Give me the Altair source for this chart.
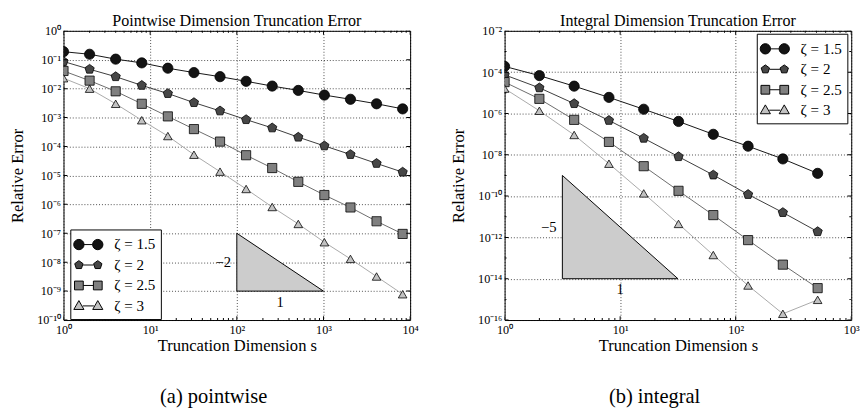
import altair as alt
import pandas as pd

FONT = "Liberation Serif"

zeta_labels = ["ζ = 1.5", "ζ = 2", "ζ = 2.5", "ζ = 3"]

# ---- (a) pointwise truncation error ----
s_pointwise = [1, 2, 4, 8, 16, 32, 64, 128, 256, 512, 1024, 2048, 4096, 8192]
pw_z15 = [0.19, 0.155, 0.105, 0.078, 0.051, 0.036, 0.026, 0.018, 0.0123, 0.0087, 0.006, 0.0043, 0.003, 0.002]
pw_z2 = [0.087, 0.047, 0.026, 0.013, 0.0068, 0.0033, 0.0017, 0.00085, 0.00044, 0.00021, 0.000105, 5.3e-5, 2.6e-5, 1.3e-5]
pw_z25 = [0.041, 0.019, 0.0081, 0.003, 0.0011, 0.0004, 0.000148, 5e-5, 1.8e-5, 6e-6, 2.1e-6, 7.8e-7, 2.6e-7, 9.5e-8]
pw_z3 = [0.023, 0.01, 0.003, 0.00081, 0.00023, 5.2e-5, 1.35e-5, 3.4e-6, 8.1e-7, 2.1e-7, 4.9e-8, 1.3e-8, 3.2e-9, 7.8e-10]

# ---- (b) integral truncation error ----
s_integral = [1, 2, 4, 8, 16, 32, 64, 128, 256, 512]
in_z15 = [1.9e-4, 6.8e-5, 2.1e-5, 6e-6, 1.6e-6, 4.1e-7, 9.8e-8, 2.6e-8, 6.3e-9, 1.26e-9]
in_z2 = [7.4e-5, 1.74e-5, 3e-6, 4.6e-7, 6.3e-8, 8.1e-9, 1.05e-9, 1.2e-10, 1.6e-11, 1.9e-12]
in_z25 = [3.3e-5, 5.1e-6, 4.9e-7, 4.2e-8, 2.8e-9, 1.8e-10, 1.2e-11, 7.4e-13, 4.8e-14, 3.5e-15]
in_z3 = [1.6e-5, 1.35e-6, 9.1e-8, 3.7e-9, 1.35e-10, 4.5e-12, 1.4e-13, 4.7e-15, 2e-16, 9.5e-16]

# slope triangles: (s, top, bottom)
pw_tri_s = [100, 1000]
pw_tri_top = [1e-7, 1e-9]
pw_tri_bot = [1e-9, 1e-9]
pw_slope_text = "−2"
pw_slope_pos = [100, 1e-8]
pw_run_pos = [316, 1e-9]

in_tri_s = [3.1623, 31.623]
in_tri_top = [1e-9, 1e-14]
in_tri_bot = [1e-14, 1e-14]
in_slope_text = "−5"
in_slope_pos = [3.1623, 3.1623e-12]
in_run_pos = [10, 1e-14]

# axis tick values
pw_x_major = [1, 10, 100, 1000, 10000]
pw_y_major = [1, 1e-1, 1e-2, 1e-3, 1e-4, 1e-5, 1e-6, 1e-7, 1e-8, 1e-9, 1e-10]
pw_y_minor = []
in_x_major = [1, 10, 100, 1000]
in_y_major = [1e-2, 1e-4, 1e-6, 1e-8, 1e-10, 1e-12, 1e-14, 1e-16]
in_y_minor = [1e-3, 1e-5, 1e-7, 1e-9, 1e-11, 1e-13, 1e-15]


def minor_decades(n_decades):
    return [k * 10 ** d for d in range(n_decades) for k in range(2, 10)]


pw_x_minor = minor_decades(4)
in_x_minor = minor_decades(3)

# styles
marker_fill = ["#141414", "#474747", "#808080", "#c2c2c2"]
line_color = ["#111111", "#3a3a3a", "#6a6a6a", "#a8a8a8"]
marker_size = [110, 78, 81, 105]
PENT = "M0,-1L0.951,-0.309L0.588,0.809L-0.588,0.809L-0.951,-0.309Z"
marker_shape = ["circle", PENT, "square", "triangle-up"]


def f(v):
    return f"{v:.3f}"


def circ(cx, r):
    return (f"M{f(cx - r)},0a{f(r)},{f(r)} 0 1,0 {f(2 * r)},0"
            f"a{f(r)},{f(r)} 0 1,0 {f(-2 * r)},0Z")


def pent(cx, r):
    pts = [(0, -1), (0.951, -0.309), (0.588, 0.809), (-0.588, 0.809), (-0.951, -0.309)]
    return "M" + "L".join(f"{f(cx + r * a)},{f(r * b)}" for a, b in pts) + "Z"


def sq(cx, h):
    return f"M{f(cx - h)},{f(-h)}L{f(cx + h)},{f(-h)}L{f(cx + h)},{f(h)}L{f(cx - h)},{f(h)}Z"


def tri(cx, h):
    return f"M{f(cx)},{f(-h * 1.05)}L{f(cx + h)},{f(h * 0.7)}L{f(cx - h)},{f(h * 0.7)}Z"


C = 0.97
legend_paths = [
    circ(-C, 0.53) + circ(C, 0.53) + f"M{f(-C + 0.53)},0L{f(C - 0.53)},0",
    pent(-C, 0.45) + pent(C, 0.45) + f"M{f(-C + 0.43)},0L{f(C - 0.43)},0",
    sq(-C, 0.45) + sq(C, 0.45) + f"M{f(-C + 0.45)},0L{f(C - 0.45)},0",
    tri(-C, 0.52) + tri(C, 0.52) + f"M{f(-C + 0.4)},0L{f(C - 0.4)},0",
]
legend_stroke = ["#000000", "#000000", "#000000", "#000000"]

SUP = "['⁰','¹','²','³','⁴','⁵','⁶','⁷','⁸','⁹']"
E = "round(log(datum.value)/LN10)"
LABEL_EXPR = (f"'10' + ({E} < 0 ? '⁻' : '') + (abs({E}) >= 10 ? {SUP}[floor(abs({E})/10)] : '')"
              f" + {SUP}[abs({E}) % 10]")

W, H = 356, 297


def panel(s_vals, series, xdom, ydom, xmaj, xmin, ymaj, ymin,
          tri_s, tri_top, tri_bot, slope_text, slope_pos, run_pos,
          title, legend_x, legend_y):
    rows = []
    for lab, vals in zip(zeta_labels, series):
        for s, e in zip(s_vals, vals):
            rows.append({"s": s, "err": e, "zeta": lab})
    df = pd.DataFrame(rows)

    xsc = alt.Scale(type="log", domain=xdom)
    ysc = alt.Scale(type="log", domain=ydom)
    xaxis = alt.Axis(values=xmaj, labelExpr=LABEL_EXPR, title="Truncation Dimension s",
                     grid=True, ticks=False, domain=False, labelPadding=4, titlePadding=2,
                     labelFlush=False)
    yaxis = alt.Axis(values=ymaj, labelExpr=LABEL_EXPR, title="Relative Error",
                     grid=True, ticks=False, domain=False, labelPadding=3, titlePadding=2,
                     minExtent=36, maxExtent=36)

    def X(field):
        return alt.X(field, type="quantitative", scale=xsc, axis=xaxis)

    def Y(field):
        return alt.Y(field, type="quantitative", scale=ysc, axis=yaxis)

    base = alt.Chart(df)

    lines = base.mark_line(clip=True, strokeWidth=1).encode(
        x=X("s"), y=Y("err"),
        color=alt.Color("zeta:N", scale=alt.Scale(domain=zeta_labels, range=line_color), legend=None),
    )
    points = base.mark_point(filled=True, opacity=1, stroke="black", strokeWidth=0.8, clip=True).encode(
        x=X("s"), y=Y("err"),
        shape=alt.Shape("zeta:N", scale=alt.Scale(domain=zeta_labels, range=marker_shape), legend=None),
        fill=alt.Fill("zeta:N", scale=alt.Scale(domain=zeta_labels, range=marker_fill), legend=None),
        size=alt.Size("zeta:O", scale=alt.Scale(domain=zeta_labels, range=marker_size), legend=None),
    )
    leg = alt.Legend(
        title=None, orient="none", legendX=legend_x, legendY=legend_y,
        strokeColor="black", fillColor="white", padding=5, cornerRadius=0,
        symbolSize=400, symbolStrokeColor="black", symbolStrokeWidth=1, symbolOpacity=1,
        labelFont=FONT, labelFontSize=15.5, labelColor="black", labelOffset=16,
        rowPadding=2, symbolOffset=3, labelLimit=200,
    )
    legend_layer = base.transform_filter("datum.s < 0").mark_point(
        filled=True, opacity=1, strokeWidth=1).encode(
        shape=alt.Shape("zeta:N", scale=alt.Scale(domain=zeta_labels, range=legend_paths), legend=leg),
        fill=alt.Fill("zeta:N", scale=alt.Scale(domain=zeta_labels, range=marker_fill), legend=leg),
        stroke=alt.Stroke("zeta:N", scale=alt.Scale(domain=zeta_labels, range=legend_stroke), legend=leg),
    )

    tri_df = pd.DataFrame({"s": tri_s, "top": tri_top, "bot": tri_bot})
    area = alt.Chart(tri_df).mark_area(fill="#cccccc", stroke="black", strokeWidth=1, opacity=1).encode(
        x=X("s"), y=Y("top"), y2="bot")

    slope = alt.Chart(pd.DataFrame({"s": [slope_pos[0]], "err": [slope_pos[1]], "t": [slope_text]})).mark_text(
        font=FONT, fontSize=15, align="right", baseline="middle", dx=-6, color="black").encode(
        x=X("s"), y=Y("err"), text="t:N")
    run = alt.Chart(pd.DataFrame({"s": [run_pos[0]], "err": [run_pos[1]], "t": ["1"]})).mark_text(
        font=FONT, fontSize=15, align="center", baseline="top", dy=4, color="black").encode(
        x=X("s"), y=Y("err"), text="t:N")

    tick_layers = []
    for vals, size in ((xmaj, 8), (xmin, 4)):
        tdf = pd.DataFrame({"s": vals})
        for yv in (0, "height"):
            tick_layers.append(alt.Chart(tdf).mark_tick(
                clip=True, color="black", thickness=1, size=size, opacity=1).encode(
                x=X("s"), y=alt.value(yv)))
    for vals, size in ((ymaj, 8), (ymin, 4)):
        if not vals:
            continue
        tdf = pd.DataFrame({"err": vals})
        for xv in (0, "width"):
            tick_layers.append(alt.Chart(tdf).mark_tick(
                clip=True, color="black", thickness=1, size=size, opacity=1).encode(
                y=Y("err"), x=alt.value(xv)))

    layer = alt.layer(area, lines, points, legend_layer, slope, run, *tick_layers).resolve_scale(
        shape="independent", fill="independent", stroke="independent"
    ).properties(
        width=W, height=H,
        title=alt.TitleParams(title, font=FONT, fontSize=16.5, fontWeight="normal", color="black", offset=-5),
    )
    return layer


left = panel(s_pointwise, [pw_z15, pw_z2, pw_z25, pw_z3], [1, 10000], [1e-10, 1],
             pw_x_major, pw_x_minor, pw_y_major, pw_y_minor,
             pw_tri_s, pw_tri_top, pw_tri_bot, pw_slope_text, pw_slope_pos, pw_run_pos,
             "Pointwise Dimension Truncation Error", 7, 204)
right = panel(s_integral, [in_z15, in_z2, in_z25, in_z3], [1, 1000], [1e-16, 1e-2],
              in_x_major, in_x_minor, in_y_major, in_y_minor,
              in_tri_s, in_tri_top, in_tri_bot, in_slope_text, in_slope_pos, in_run_pos,
              "Integral Dimension Truncation Error", 259, 3)


def caption(ch, text):
    return alt.vconcat(ch).properties(
        title=alt.TitleParams(text, orient="bottom", anchor="middle", font=FONT, fontSize=21,
                              fontWeight="normal", color="black", offset=33))


chart = alt.hconcat(caption(left, "(a) pointwise"), caption(right, "(b) integral"), spacing=31).resolve_scale(
    shape="independent", fill="independent", stroke="independent"
).properties(
    padding={"left": 0, "top": 0, "right": 0, "bottom": 0},
    background="white",
).configure_view(
    stroke="black", strokeWidth=1
).configure_axis(
    labelFont=FONT, labelFontSize=12.5, labelColor="black",
    titleFont=FONT, titleFontSize=17, titleFontWeight="normal", titleColor="black",
    gridColor="black", gridDash=[1, 2], gridWidth=0.8, gridOpacity=0.9,
)

chart.save("out.html", embed_options={"renderer": "svg", "actions": False})
